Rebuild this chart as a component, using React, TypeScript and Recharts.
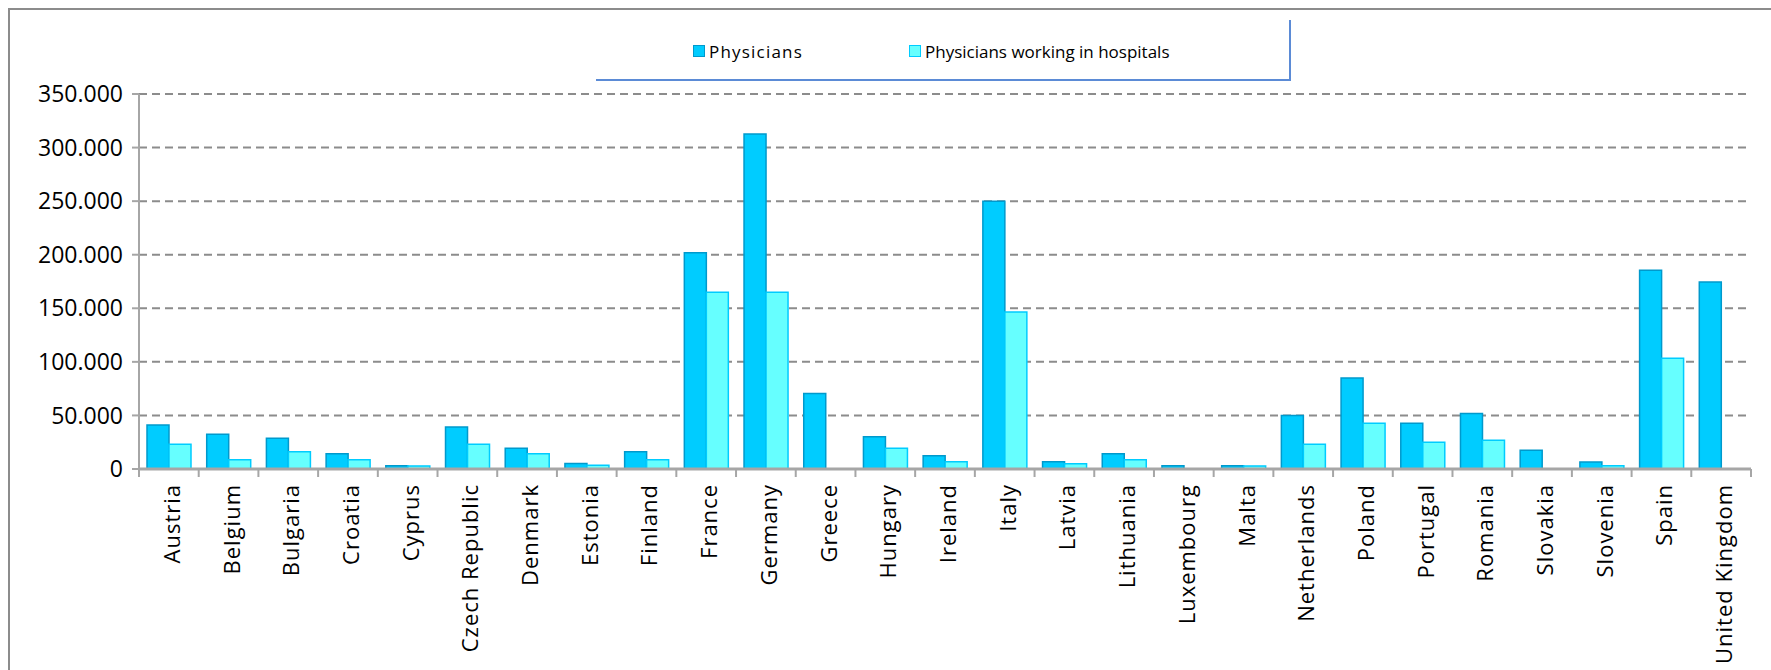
import React from 'react';
import { BarChart, Bar, XAxis, YAxis, CartesianGrid } from 'recharts';

const countries = [
  'Austria', 'Belgium', 'Bulgaria', 'Croatia', 'Cyprus', 'Czech Republic', 'Denmark', 'Estonia', 'Finland',
  'France', 'Germany', 'Greece', 'Hungary', 'Ireland', 'Italy', 'Latvia', 'Lithuania', 'Luxembourg', 'Malta',
  'Netherlands', 'Poland', 'Portugal', 'Romania', 'Slovakia', 'Slovenia', 'Spain', 'United Kingdom',
];
const physicians = [
  41000, 32400, 28700, 14200, 3100, 39200, 19400, 5200, 16000,
  201900, 312600, 70500, 30200, 12300, 250000, 6800, 14200, 3100, 3100,
  50000, 85000, 42600, 51900, 17600, 6500, 185400, 174500,
];
const hospitals = [
  23100, 8600, 16000, 8600, 2900, 23100, 14200, 3400, 8600,
  164900, 164900, null, 19400, 6800, 146500, 4900, 8600, null, 2900,
  23100, 42600, 25000, 26900, null, 3000, 103400, null,
];
const yTicks = [0, 50000, 100000, 150000, 200000, 250000, 300000, 350000];
const seriesNames = ['Physicians', 'Physicians working in hospitals'];

const rows = countries.map((country, i) => ({
  country,
  physicians: physicians[i],
  hospitals: hospitals[i],
}));

const W = 1771;
const H = 670;
const TOP = 94;
const LEFT = 139;
const RIGHT = 20;
const AXIS_Y = 469;
const BAND = (W - LEFT - RIGHT) / countries.length;
const FONT = '"Open Sans", "Noto Sans", sans-serif';

const fmt = (v: number) => (v === 0 ? '0' : v.toLocaleString('de-DE'));

const CountryTick = (props: any) => {
  const { x, payload, index } = props;
  const half = BAND / 2;
  return (
    <g>
      <line x1={x - half} x2={x - half} y1={AXIS_Y} y2={AXIS_Y + 8} stroke="#a6a6a6" strokeWidth={2} />
      {index === countries.length - 1 && (
        <line x1={x + half} x2={x + half} y1={AXIS_Y} y2={AXIS_Y + 8} stroke="#a6a6a6" strokeWidth={2} />
      )}
      <text
        transform={`translate(${x + 11},${AXIS_Y + 15}) rotate(-90)`}
        textAnchor="end"
        fontSize={22}
        letterSpacing={1}
        fontFamily={FONT}
        fill="#000"
      >
        {payload.value}
      </text>
    </g>
  );
};

const swatch = (fill: string, border: string) => (
  <span
    style={{
      display: 'inline-block',
      width: 10,
      height: 10,
      background: fill,
      border: `1.5px solid ${border}`,
      marginRight: 4,
      verticalAlign: 'middle',
    }}
  />
);

export default function App() {
  return (
    <div style={{ position: 'absolute', left: 0, top: 0, width: W, height: H, background: '#fff', overflow: 'hidden' }}>
      <div
        style={{
          position: 'absolute',
          left: 8,
          top: 8,
          width: W,
          height: H,
          borderTop: '2px solid #8c8c8c',
          borderLeft: '2px solid #8c8c8c',
        }}
      />
      <div
        style={{
          position: 'absolute',
          left: 596,
          top: 20,
          width: 693,
          height: 59,
          borderRight: '2px solid #5b8bd6',
          borderBottom: '2px solid #5b8bd6',
          fontFamily: FONT,
          fontSize: 17,
          color: '#000',
        }}
      >
        <div style={{ position: 'absolute', left: 97, top: 18, whiteSpace: 'nowrap' }}>
          {swatch('#00ccff', '#0099cc')}
          <span style={{ verticalAlign: 'middle', letterSpacing: 1.2 }}>{seriesNames[0]}</span>
        </div>
        <div style={{ position: 'absolute', left: 313, top: 18, whiteSpace: 'nowrap' }}>
          {swatch('#66ffff', '#00ccff')}
          <span style={{ verticalAlign: 'middle' }}>{seriesNames[1]}</span>
        </div>
      </div>
      <div style={{ position: 'absolute', left: 0, top: 0 }}>
        <BarChart
          width={W}
          height={H}
          data={rows}
          margin={{ top: TOP, right: RIGHT, bottom: 0, left: 0 }}
          barCategoryGap={8}
          barGap={0}
        >
          <CartesianGrid vertical={false} stroke="#8c8c8c" strokeDasharray="8 5" strokeWidth={2} />
          <XAxis
            dataKey="country"
            interval={0}
            height={H - AXIS_Y}
            tick={<CountryTick />}
            tickLine={false}
            axisLine={{ stroke: '#a6a6a6', strokeWidth: 3 }}
          />
          <YAxis
            width={LEFT}
            domain={[0, 350000]}
            ticks={yTicks}
            tickFormatter={fmt}
            tickSize={7}
            tickMargin={9}
            tickLine={{ stroke: '#a6a6a6', strokeWidth: 2 }}
            axisLine={{ stroke: '#a6a6a6', strokeWidth: 2 }}
            tick={{ fontSize: 23, fill: '#000', fontFamily: FONT }}
          />
          <Bar dataKey="physicians" name={seriesNames[0]} fill="#00ccff" stroke="#0099cc" strokeWidth={1.5} isAnimationActive={false} />
          <Bar dataKey="hospitals" name={seriesNames[1]} fill="#66ffff" stroke="#00ccff" strokeWidth={1.5} isAnimationActive={false} />
        </BarChart>
      </div>
    </div>
  );
}
